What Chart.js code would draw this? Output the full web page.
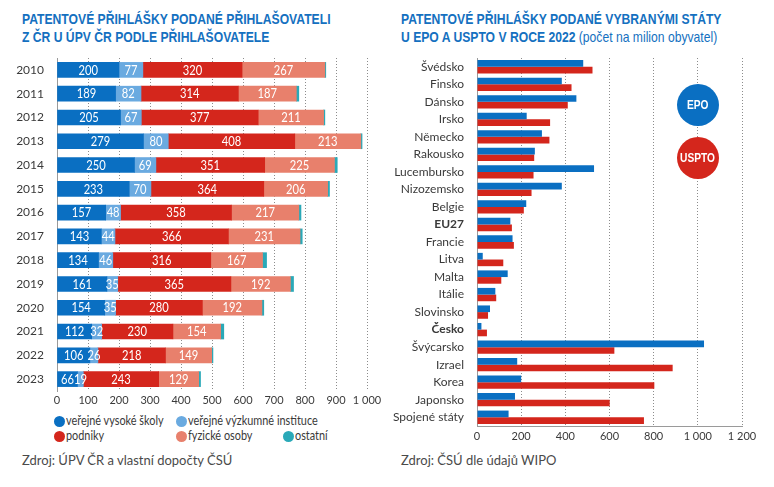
<!DOCTYPE html>
<html><head><meta charset="utf-8">
<script src="https://cdn.jsdelivr.net/npm/chart.js@4"></script>
<style>
html,body{margin:0;padding:0;background:#fff;width:774px;height:487px;overflow:hidden;font-family:Lato,"Open Sans",sans-serif;}
.title{position:absolute;font-family:"Liberation Sans",Arial,sans-serif;font-weight:bold;font-size:15px;line-height:18px;color:#1470c0;white-space:nowrap;transform:scaleX(0.81);transform-origin:0 0;}
.title span{font-weight:normal;}
.src{position:absolute;font-size:13px;color:#4a4a4a;white-space:nowrap;}
.leg{position:absolute;font-size:12.5px;color:#3a3a3a;line-height:14px;white-space:nowrap;}
.leg span{display:inline-block;transform:scaleX(0.87);transform-origin:0 0;}
.leg i{position:absolute;left:-12px;top:2px;width:11px;height:11px;border-radius:50%;}
.bub{position:absolute;width:42px;height:42px;border-radius:50%;color:#fff;font-weight:bold;font-size:12px;line-height:42px;text-align:center;font-family:"Liberation Sans",Arial,sans-serif;}
.bub b{display:inline-block;transform:scaleX(0.85);}
canvas{position:absolute;}
</style></head>
<body>
<div class="title" style="left:22px;top:10px;">PATENTOVÉ PŘIHLÁŠKY PODANÉ PŘIHLAŠOVATELI<br>Z ČR U ÚPV ČR PODLE PŘIHLAŠOVATELE</div>
<div class="title" style="left:401px;top:10px;">PATENTOVÉ PŘIHLÁŠKY PODANÉ VYBRANÝMI STÁTY<br>U EPO A USPTO V ROCE 2022 <span>(počet na milion obyvatel)</span></div>
<canvas id="c1" width="390" height="410" style="left:0;top:0;width:390px;height:410px;"></canvas>
<canvas id="c2" width="384" height="443" style="left:390px;top:0;width:384px;height:443px;"></canvas>

<div class="leg" style="left:66px;top:414px;"><i style="background:#0a6fc2"></i><span>veřejné vysoké školy</span></div>
<div class="leg" style="left:188px;top:414px;"><i style="background:#6aaae0"></i><span>veřejné výzkumné instituce</span></div>
<div class="leg" style="left:66px;top:429px;"><i style="background:#d4261c"></i><span>podniky</span></div>
<div class="leg" style="left:188px;top:429px;"><i style="background:#e8806c"></i><span>fyzické osoby</span></div>
<div class="leg" style="left:295px;top:429px;"><i style="background:#2aa9b8"></i><span>ostatní</span></div>
<div class="src" style="left:22px;top:452px;">Zdroj: ÚPV ČR a vlastní dopočty ČSÚ</div>
<div class="src" style="left:401px;top:452px;">Zdroj: ČSÚ dle údajů WIPO</div>
<div class="bub" style="left:677px;top:84px;background:#0a6fc2;"><b>EPO</b></div>
<div class="bub" style="left:677px;top:137px;background:#d4261c;"><b>USPTO</b></div>

<script>
// ---- Left chart data ----
const years = ['2010','2011','2012','2013','2014','2015','2016','2017','2018','2019','2020','2021','2022','2023'];
const vysokeSkoly = [200,189,205,279,250,233,157,143,134,161,154,112,106,66];
const vyzkumneInst = [77,82,67,80,69,70,48,44,46,35,35,32,26,19];
const podniky = [320,314,377,408,351,364,358,366,316,365,280,230,218,243];
const fyzickeOsoby = [267,187,211,213,225,206,217,231,167,192,192,154,149,129];
const ostatni = [3,8,4,4,9,6,7,7,13,10,6,10,4,6];
const leftTicks = ['0','100','200','300','400','500','600','700','800','900','1 000'];

// ---- Right chart data ----
const countries = ['Švédsko','Finsko','Dánsko','Irsko','Německo','Rakousko','Lucembursko','Nizozemsko','Belgie','EU27','Francie','Litva','Malta','Itálie','Slovinsko','Česko','Švýcarsko','Izrael','Korea','Japonsko','Spojené státy'];
const epo = [481,384,450,225,294,262,530,384,223,151,161,26,139,83,59,20,1028,182,200,172,143];
const uspto = [523,428,411,331,328,259,256,247,212,158,167,119,110,87,50,45,622,886,803,601,756];
const rightTicks = ['0','200','400','600','800','1 000','1 200'];
const boldLabels = ['EU27','Česko'];

const C = {blue:'#0a6fc2', lblue:'#6aaae0', red:'#d4261c', salmon:'#e8806c', teal:'#2aa9b8'};
const FONT = 'Lato, "Open Sans", sans-serif';

const gridOpts = {
  display:true, drawTicks:false, lineWidth:1,
  color:(c)=> (c.tick && c.tick.value === 0) ? 'rgba(0,0,0,0)' : '#8c8c8c'
};

const labelPlugin = {
  id:'inlabels',
  afterDatasetsDraw(chart){
    const ctx = chart.ctx;
    ctx.save();
    ctx.fillStyle = '#fff';
    ctx.font = '13px ' + FONT;
    ctx.textAlign = 'center';
    ctx.textBaseline = 'middle';
    const sx = 0.86;
    chart.data.datasets.forEach((ds, di) => {
      if (ds.noLabel) return;
      chart.getDatasetMeta(di).data.forEach((el, i) => {
        const cx = (el.base + el.x) / 2;
        ctx.save();
        ctx.translate(cx, el.y + 0.5);
        ctx.scale(sx, 1);
        ctx.fillText(String(ds.data[i]), 0, 0);
        ctx.restore();
      });
    });
    ctx.restore();
  }
};

new Chart(document.getElementById('c1'), {
  type:'bar',
  data:{labels:years, datasets:[
    {label:'veřejné vysoké školy', data:vysokeSkoly, backgroundColor:C.blue},
    {label:'veřejné výzkumné instituce', data:vyzkumneInst, backgroundColor:C.lblue},
    {label:'podniky', data:podniky, backgroundColor:C.red},
    {label:'fyzické osoby', data:fyzickeOsoby, backgroundColor:C.salmon},
    {label:'ostatní', data:ostatni, backgroundColor:C.teal, noLabel:true}
  ]},
  options:{
    indexAxis:'y', responsive:false, animation:false,
    layout:{padding:{top:58,right:23,left:0,bottom:0}},
    datasets:{bar:{barThickness:15, borderWidth:0}},
    plugins:{legend:{display:false}, tooltip:{enabled:false}},
    scales:{
      x:{stacked:true, min:0, max:1000,
        grid:gridOpts,
        border:{display:false, dash:[1,2]},
        ticks:{stepSize:100, padding:3, color:'#3a3a3a', font:{family:FONT,size:11},
          maxRotation:0, minRotation:0, autoSkip:false,
          callback:(v,i)=>leftTicks[i]},
        afterFit(s){s.height=19;}
      },
      y:{stacked:true,
        grid:{display:false},
        border:{display:true, color:'#9a9a9a', width:1},
        ticks:{padding:5, color:'#3a3a3a', font:{family:FONT,size:12}},
        afterFit(s){s.width=57;}
      }
    }
  },
  plugins:[labelPlugin]
});

new Chart(document.getElementById('c2'), {
  type:'bar',
  data:{labels:countries, datasets:[
    {label:'EPO', data:epo, backgroundColor:C.blue},
    {label:'USPTO', data:uspto, backgroundColor:C.red}
  ]},
  options:{
    indexAxis:'y', responsive:false, animation:false,
    layout:{padding:{top:58,right:32,left:0,bottom:0}},
    datasets:{bar:{categoryPercentage:0.76, barPercentage:1.0, borderWidth:0}},
    plugins:{legend:{display:false}, tooltip:{enabled:false}},
    scales:{
      x:{min:0, max:1200,
        grid:gridOpts,
        border:{display:true, color:'#9a9a9a', width:1, dash:[1,2]},
        ticks:{stepSize:200, padding:4, color:'#3a3a3a', font:{family:FONT,size:11},
          maxRotation:0, minRotation:0, autoSkip:false,
          callback:(v,i)=>rightTicks[i]},
        afterFit(s){s.height=17;}
      },
      y:{
        grid:{display:false},
        border:{display:true, color:'#9a9a9a', width:1},
        ticks:{padding:5, color:'#3a3a3a',
          font:(c)=>({family:FONT,size:12,weight: boldLabels.includes(countries[c.index]) ? 'bold':'normal'})},
        afterFit(s){s.width=87;}
      }
    }
  }
});
</script>
</body></html>
